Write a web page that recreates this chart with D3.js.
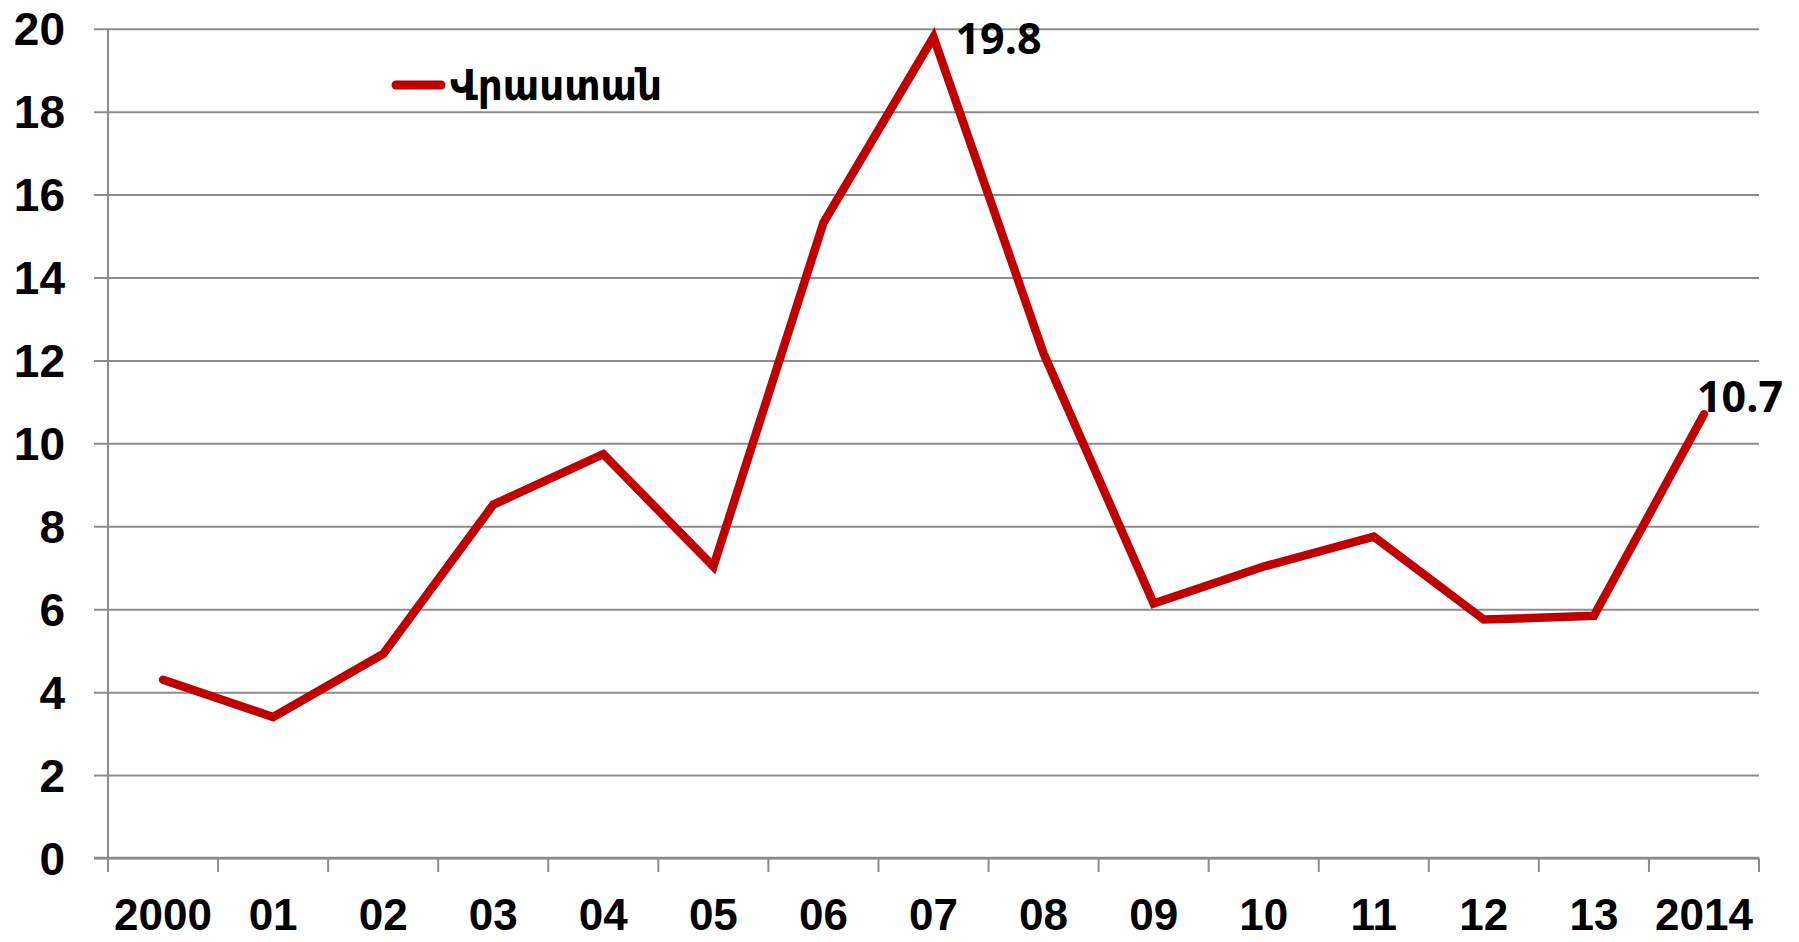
<!DOCTYPE html>
<html><head><meta charset="utf-8">
<script src="https://cdn.jsdelivr.net/npm/d3@7"></script>
<style>body{margin:0;background:#fff}svg{display:block}</style>
</head><body>
<svg id="chart" width="1799" height="942"></svg>
<script>
const categories = ["2000","2001","2002","2003","2004","2005","2006","2007","2008","2009","2010","2011","2012","2013","2014"];
const tickLabels = ["2000","01","02","03","04","05","06","07","08","09","10","11","12","13","2014"];
const values = [4.3, 3.4, 4.92, 8.52, 9.74, 7.03, 15.32, 19.8, 12.17, 6.14, 7.03, 7.75, 5.75, 5.84, 10.7];
const yTicks = [0,2,4,6,8,10,12,14,16,18,20];
const seriesName = "Վրաստան";
const annotations = [{index:7, text:"19.8", dx:22, dy:17}, {index:14, text:"10.7", dx:-7, dy:-2}];

const svg = d3.select("#chart");
const L = 108, R = 1759, T = 28.7, B = 858;
const x = d3.scaleBand().domain(categories).range([L, R]).padding(0);
const y = d3.scaleLinear().domain([0, 20]).range([B, T]);
const grey = "#8c8c8c";
const red = "#c00000";

// horizontal gridlines with left ticks
const yAxis = d3.axisLeft(y).tickValues(yTicks).tickSize(-(R - L)).tickSizeOuter(0).tickPadding(43).tickFormat(d3.format("d"));
const gy = svg.append("g").attr("transform", `translate(${L},0)`).call(yAxis);
gy.select(".domain").remove();
gy.selectAll(".tick line").attr("x1", -14).attr("stroke", grey).attr("stroke-width", 2);
gy.selectAll(".tick text").attr("font-family", "'Liberation Sans', Arial, sans-serif")
  .attr("font-weight", "bold").attr("font-size", 46).attr("fill", "#000").attr("dy", "0.35em");

// vertical axis line
svg.append("line").attr("x1", L).attr("x2", L).attr("y1", T).attr("y2", B + 14)
  .attr("stroke", grey).attr("stroke-width", 2);

// x axis labels
const xAxis = d3.axisBottom(x).tickSize(0).tickPadding(41).tickFormat((d, i) => tickLabels[i]);
const gx = svg.append("g").attr("transform", `translate(0,${B})`).call(xAxis);
gx.select(".domain").remove();
gx.selectAll(".tick text").attr("font-family", "'Liberation Sans', Arial, sans-serif")
  .attr("font-weight", "bold").attr("font-size", 44).attr("fill", "#000").attr("dy", "0.71em");

// x axis line and boundary ticks
svg.append("line").attr("x1", L - 14).attr("x2", R).attr("y1", B).attr("y2", B)
  .attr("stroke", grey).attr("stroke-width", 2.5);
const bounds = categories.map(c => x(c)).concat([x(categories[categories.length - 1]) + x.bandwidth()]);
svg.append("g").selectAll("line").data(bounds).join("line")
  .attr("x1", d => d).attr("x2", d => d).attr("y1", B).attr("y2", B + 14)
  .attr("stroke", grey).attr("stroke-width", 2);

// series line
const line = d3.line().x((d, i) => x(categories[i]) + x.bandwidth() / 2).y(d => y(d));
svg.append("path").datum(values).attr("d", line).attr("fill", "none")
  .attr("stroke", red).attr("stroke-width", 8.5).attr("stroke-linecap", "round").attr("stroke-linejoin", "miter");

// data labels
svg.append("g").selectAll("text").data(annotations).join("text")
  .attr("x", d => x(categories[d.index]) + x.bandwidth() / 2 + d.dx)
  .attr("y", d => y(values[d.index]) + d.dy)
  .attr("font-family", "'Open Sans', 'DejaVu Sans', sans-serif").attr("font-weight", 700)
  .attr("font-size", 43).attr("fill", "#000").text(d => d.text);

// legend
const lg = svg.append("g");
lg.append("line").attr("x1", 396).attr("x2", 441).attr("y1", 85).attr("y2", 85)
  .attr("stroke", red).attr("stroke-width", 9).attr("stroke-linecap", "round");
lg.append("text").attr("x", 450).attr("y", 100).text(seriesName)
  .attr("font-family", "'DejaVu Sans Condensed', 'DejaVu Sans', sans-serif").attr("font-weight", "bold")
  .attr("font-size", 43).attr("fill", "#000")
  .attr("textLength", 212).attr("lengthAdjust", "spacingAndGlyphs");
</script>
</body></html>
